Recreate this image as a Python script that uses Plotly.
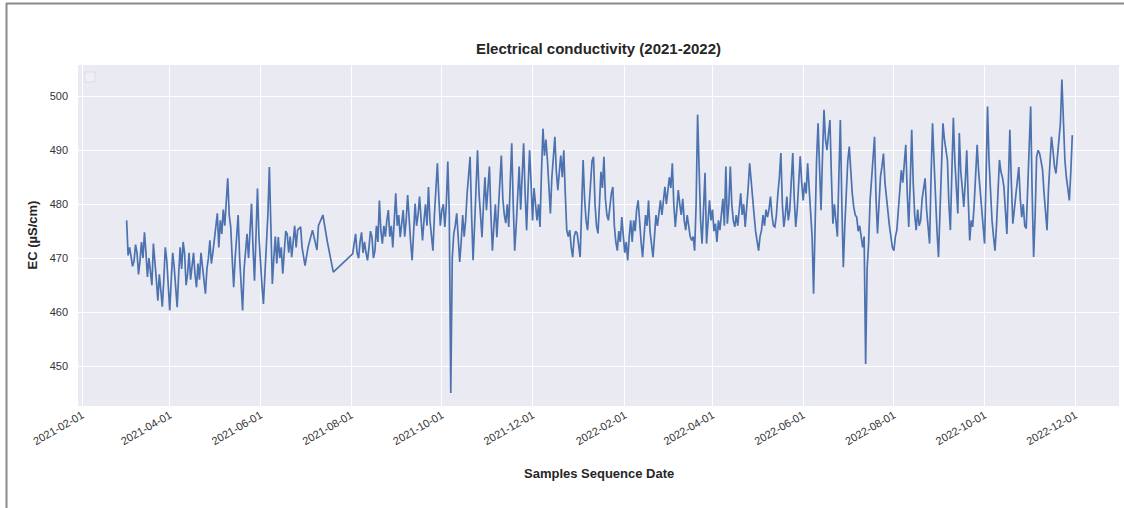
import pandas as pd
import plotly.graph_objects as go

# ---- data ----
# each entry: [days after 2021-02-01, EC in uS/cm]
start_date = "2021-02-01"

spring_2021 = [
    [30, 477], [31, 470.5], [32, 472], [33, 470], [34, 468.5], [35, 469.5], [36, 472.5], [37, 471], [38, 467], [39, 469.5],
    [40, 473], [41, 470], [42, 474.8], [43, 471], [44, 466.5], [45, 470], [46, 468], [47, 465], [48, 472.7], [49, 470],
    [50, 466], [51, 462.1], [52, 467], [53, 464], [54, 461], [55, 466], [56, 472], [57, 469.6], [58, 465], [59, 460.3],
    [60, 466], [61, 471], [62, 468.3], [63, 465], [64, 460.9], [65, 467], [66, 472], [67, 468], [68, 473], [69, 470.8],
    [70, 465], [71, 467.1], [72, 471], [73, 466], [74, 469], [75, 471], [76, 467], [77, 464.6], [78, 469], [79, 466],
    [80, 471], [81, 468.3], [82, 466], [83, 463.4], [84, 468], [85, 470], [86, 473.3], [87, 469], [88, 471], [89, 473.3],
    [90, 476], [91, 478.3], [92, 472], [93, 477], [94, 474.5], [95, 479], [96, 476], [97, 481], [98, 484.8], [99, 478],
    [100, 475.8], [101, 470], [102, 464.6], [103, 470], [104, 474], [105, 478], [106, 470], [107, 466], [108, 460.3], [109, 468],
    [110, 472], [111, 474.5], [112, 470], [113, 476], [114, 480.1], [115, 472], [116, 465.8], [117, 474], [118, 482.9], [119, 474],
    [120, 468], [121, 465], [122, 461.5], [123, 467], [124, 471.4], [125, 478], [126, 486.9], [127, 474], [128, 465.2], [129, 470],
    [130, 474], [131, 469], [132, 473.9], [133, 470], [134, 472], [135, 467.1], [136, 471], [137, 475], [138, 474.5], [139, 471],
    [140, 474], [141, 470.2], [142, 473], [143, 476], [144, 472], [145, 475.2],
]

summer_2021 = [
    [147, 475.8], [148, 472], [150, 468.6], [152, 472], [155, 475.2], [157, 473], [158, 471.5], [159, 476], [162, 478], [165, 473],
    [169, 467.4],
    [182, 470.8], [183, 473], [184, 474.5], [185, 471], [186, 470], [187, 473], [188, 474.8], [189, 471], [190, 473], [191, 471],
    [192, 469.6], [193, 472], [194, 475], [195, 473.9], [196, 470], [197, 471.4], [198, 476], [199, 473], [200, 480.7], [201, 475],
    [202, 472.7], [203, 476], [204, 474], [205, 477], [206, 478.9], [207, 474], [208, 476], [209, 472], [210, 477], [211, 482],
    [212, 476], [213, 478], [214, 473.9], [215, 476], [216, 478.9], [217, 474], [218, 477], [219, 481.7], [220, 476], [221, 473],
    [222, 469.6], [223, 475], [224, 480.1], [225, 476], [226, 478], [227, 481.4], [228, 476], [229, 473.3], [230, 477], [231, 480],
    [232, 476], [233, 483.2], [234, 477], [235, 474], [236, 471.4], [237, 478], [238, 483], [239, 487.6], [240, 481], [241, 476],
    [242, 478.9], [243, 480], [244, 475.8], [245, 480], [246, 487.9], [247, 478], [248, 445], [249, 470], [250, 474.5], [251, 476],
    [252, 478.3], [253, 473], [254, 469.3], [255, 473], [256, 478], [257, 474], [258, 477], [259, 482], [260, 485], [261, 488.8],
    [262, 478], [263, 469.6], [264, 476], [265, 483], [266, 490], [267, 482], [268, 477], [269, 473.9],
]

winter_2021 = [
    [270, 480], [271, 485], [272, 478.9], [273, 483], [274, 487], [275, 478], [276, 471.4], [277, 476], [278, 480], [279, 473.9],
    [280, 478], [281, 484], [282, 489], [283, 481], [284, 478], [285, 476.5], [286, 480], [287, 475.8], [288, 484], [289, 491.3],
    [290, 480], [291, 471.4], [292, 476], [293, 482], [294, 487], [295, 479], [296, 485], [297, 491.3], [298, 482], [299, 475.2],
    [300, 483], [301, 490], [302, 484], [303, 477], [304, 483], [305, 480], [306, 477], [307, 480], [308, 475.8], [309, 486],
    [310, 494], [311, 489], [312, 492], [313, 488.2], [314, 484], [315, 478.3], [316, 485], [317, 489], [318, 492.5], [319, 486],
    [320, 482.6], [321, 486], [322, 489], [323, 485], [324, 490], [325, 482], [326, 475.2], [327, 474], [328, 475.2], [329, 472],
    [330, 470.2], [331, 474], [332, 475], [333, 474.6], [334, 472], [335, 470.2], [336, 479], [337, 488.2], [338, 481], [339, 477],
    [340, 475.2], [341, 480], [342, 485], [343, 488], [344, 488.8], [345, 480], [346, 476], [347, 474.6], [348, 480], [349, 486],
    [350, 483], [351, 488.8], [352, 481], [353, 478], [354, 477], [355, 480], [356, 482], [357, 483.2], [358, 476], [359, 473],
    [360, 471.4], [361, 475], [362, 473], [363, 477.6], [364, 474], [365, 471], [366, 473], [367, 469.6], [368, 474], [369, 477],
    [370, 473], [371, 477], [372, 475], [373, 479], [374, 480.7], [375, 476], [376, 473], [377, 470.2], [378, 475], [379, 478],
    [380, 476], [381, 480.7], [382, 475], [383, 472], [384, 470.2], [385, 474], [386, 478], [387, 476], [388, 479], [389, 480.7],
    [390, 478], [391, 481], [392, 483.2], [393, 480], [394, 482], [395, 485], [396, 483], [397, 487.6], [398, 480],
]

spring_2022 = [
    [399, 475.8], [400, 479], [401, 482.6], [402, 480], [403, 478], [404, 481], [405, 477], [406, 475.2], [407, 478], [408, 476],
    [409, 474], [410, 473.3], [411, 474], [412, 471.4], [413, 480], [414, 496.6], [415, 485], [416, 477], [417, 472.7], [418, 478],
    [419, 485.8], [420, 472.7], [421, 476], [422, 480.7], [423, 477], [424, 479], [425, 475], [426, 476.4], [427, 473], [428, 477],
    [429, 475.2], [430, 478], [431, 481], [432, 476], [433, 487], [434, 476.4], [435, 480], [436, 487], [437, 480], [438, 477],
    [439, 475.8], [440, 478], [441, 476], [442, 479], [443, 482], [444, 478], [445, 480], [446, 475.8], [447, 479], [448, 483],
    [449, 487.6], [450, 484], [451, 481.4], [452, 478], [453, 475], [454, 473], [455, 471.4], [456, 474], [457, 475.2], [458, 478],
    [459, 476], [460, 479], [461, 477.6], [462, 479], [463, 481.4], [464, 478], [465, 476], [466, 475.8], [467, 478], [468, 482],
    [469, 485], [470, 489.5], [471, 480], [472, 475.8], [473, 478], [474, 481.4], [475, 477], [476, 479], [477, 485], [478, 489.5],
    [479, 481], [480, 475.8], [481, 479], [482, 484], [483, 488.9], [484, 484], [485, 480.7], [486, 484], [487, 482], [488, 487.6],
    [489, 483], [490, 479.5], [491, 474], [492, 463.4], [493, 478], [494, 488], [495, 495], [496, 485], [497, 478.9], [498, 489],
    [499, 497.5], [500, 492], [501, 490], [502, 493], [503, 495.6], [504, 485], [505, 476.4], [506, 480], [507, 477], [508, 474],
    [509, 485], [510, 495.6], [511, 480], [512, 468.3], [513, 476], [514, 484], [515, 488], [516, 490.7], [517, 485], [518, 482],
    [519, 479.5], [520, 478], [521, 477.6], [522, 475], [523, 476], [524, 474], [525, 472], [526, 474], [527, 450.4], [528, 468],
    [529, 472.7], [530, 480.7], [531, 485], [532, 489], [533, 492.5], [534, 481], [535, 474.6], [536, 480], [537, 485.1], [538, 487],
]

autumn_2022 = [
    [539, 489.4], [540, 484], [541, 481], [542, 478.9], [543, 476], [544, 474], [545, 472], [546, 471.4], [547, 474], [548, 475.2],
    [549, 479], [550, 483], [551, 486.3], [552, 484], [553, 488], [554, 491], [555, 482], [556, 475.8], [557, 484], [558, 493.8],
    [559, 484], [560, 478], [561, 475.2], [562, 479], [563, 476], [564, 477], [565, 481], [566, 483], [567, 484.8], [568, 479],
    [569, 475], [570, 472.7], [571, 485], [572, 495], [573, 488], [574, 480.7], [575, 475], [576, 470.2], [577, 478], [578, 486],
    [579, 495], [580, 492], [581, 490], [582, 488.2], [583, 480], [584, 475.2], [585, 486], [586, 496], [587, 488], [588, 482],
    [589, 478.3], [590, 493.2], [591, 486], [592, 483], [593, 479.5], [594, 484], [595, 490], [596, 481], [597, 473.3], [598, 477],
    [599, 475.8], [600, 480], [601, 486], [602, 491], [603, 486], [604, 483], [605, 480.1], [606, 476], [607, 472.7], [608, 485],
    [609, 498.1], [610, 488], [611, 481], [612, 477], [613, 474], [614, 471.4], [615, 476], [616, 482], [617, 488.2], [618, 486],
    [619, 485], [620, 483.2], [621, 478], [622, 474.5], [623, 484], [624, 493.8], [625, 484], [626, 476.4], [627, 479], [628, 482],
    [629, 485], [630, 486.9], [631, 481], [632, 477.6], [633, 480], [634, 476], [635, 475.5], [636, 482], [637, 490], [638, 498.1],
    [639, 482], [640, 470.2], [641, 478], [642, 488.8], [643, 490], [644, 489.4], [645, 488], [646, 486.3], [647, 482], [648, 478],
    [649, 475.2], [650, 483], [651, 488], [652, 492.5], [653, 490], [654, 487], [655, 485.7], [656, 489], [657, 492.5], [658, 495],
    [659, 503.1], [660, 494], [661, 488.2], [662, 485], [663, 483], [664, 480.7], [665, 486], [666, 492.8],
]

y_ticks = [450, 460, 470, 480, 490, 500]

title_text = "Electrical conductivity (2021-2022)"
x_title = "Samples Sequence Date"
y_title = "EC (µS/cm)"

# ---- build ----
records = spring_2021 + summer_2021 + winter_2021 + spring_2022 + autumn_2022
sample_days = [r[0] for r in records]
ec_values = [r[1] for r in records]
dates = pd.Timestamp(start_date) + pd.to_timedelta(sample_days, unit="D")

t0 = pd.Timestamp(start_date)
x_range = [t0 + pd.Timedelta(days=-2.7), t0 + pd.Timedelta(days=697.4)]
y_range = [442.6, 505.8]

W, H = 1124, 508
L, R, T, B = 78, 5, 65, 102
pw, ph = W - L - R, H - T - B


def px_x(px):
    return (px - L) / pw


def px_y(py):
    return (H - B - py) / ph


fig = go.Figure()
fig.add_trace(go.Scatter(
    x=dates, y=ec_values, mode="lines",
    line=dict(color="#4c72b0", width=1.7),
    showlegend=False, hoverinfo="x+y",
))

font_family = "Liberation Sans, Arial, sans-serif"
text_col = "#262626"

fig.update_layout(
    width=W, height=H,
    margin=dict(l=L, r=R, t=T, b=B, pad=0),
    paper_bgcolor="white",
    plot_bgcolor="#eaeaf2",
    font=dict(family=font_family, color=text_col),
    title=dict(
        text="<b>" + title_text + "</b>",
        font=dict(size=15, color=text_col, family=font_family),
        x=0.5, xref="paper", xanchor="center",
        y=1 - 49 / H, yref="container", yanchor="middle",
    ),
    xaxis=dict(
        range=x_range,
        type="date",
        tick0=start_date, dtick="M2",
        tickformat="%Y-%m-%d",
        tickangle=-30,
        tickfont=dict(size=11, color="#333333"),
        showgrid=True, gridcolor="white", gridwidth=1.3,
        zeroline=False, showline=False, ticks="",
    ),
    yaxis=dict(
        range=y_range,
        tickvals=y_ticks,
        ticktext=[str(v) for v in y_ticks],
        tickfont=dict(size=11, color="#333333"),
        showgrid=True, gridcolor="white", gridwidth=1.3,
        zeroline=False, showline=False, ticks="",
        ticklabelstandoff=9,
    ),
    annotations=[
        dict(text="<b>" + y_title + "</b>", xref="paper", yref="paper",
             x=px_x(32), y=0.5, textangle=-90, showarrow=False,
             xanchor="center", yanchor="middle",
             font=dict(size=13, color=text_col, family=font_family)),
        dict(text="<b>" + x_title + "</b>", xref="paper", yref="paper",
             x=0.5, y=px_y(473), showarrow=False,
             xanchor="center", yanchor="middle",
             font=dict(size=13, color=text_col, family=font_family)),
    ],
    shapes=[
        # outer frame of the picture (top and left edges)
        dict(type="line", xref="paper", yref="paper",
             x0=px_x(6), x1=px_x(W), y0=px_y(3.5), y1=px_y(3.5),
             line=dict(color="#8a8a8a", width=2), layer="above"),
        dict(type="line", xref="paper", yref="paper",
             x0=px_x(6.5), x1=px_x(6.5), y0=px_y(3), y1=px_y(H),
             line=dict(color="#8a8a8a", width=2), layer="above"),
        # empty legend frame
        dict(type="rect", xref="paper", yref="paper",
             x0=px_x(85), x1=px_x(95), y0=px_y(82), y1=px_y(72),
             line=dict(color="#dcdce4", width=1), fillcolor="rgba(255,255,255,0.25)",
             layer="above"),
    ],
)

fig.write_html(
    "out.html",
    config={"displayModeBar": False},
    post_script="document.body.style.margin='0';document.body.style.padding='0';"
                "document.documentElement.style.overflow='hidden';",
)
